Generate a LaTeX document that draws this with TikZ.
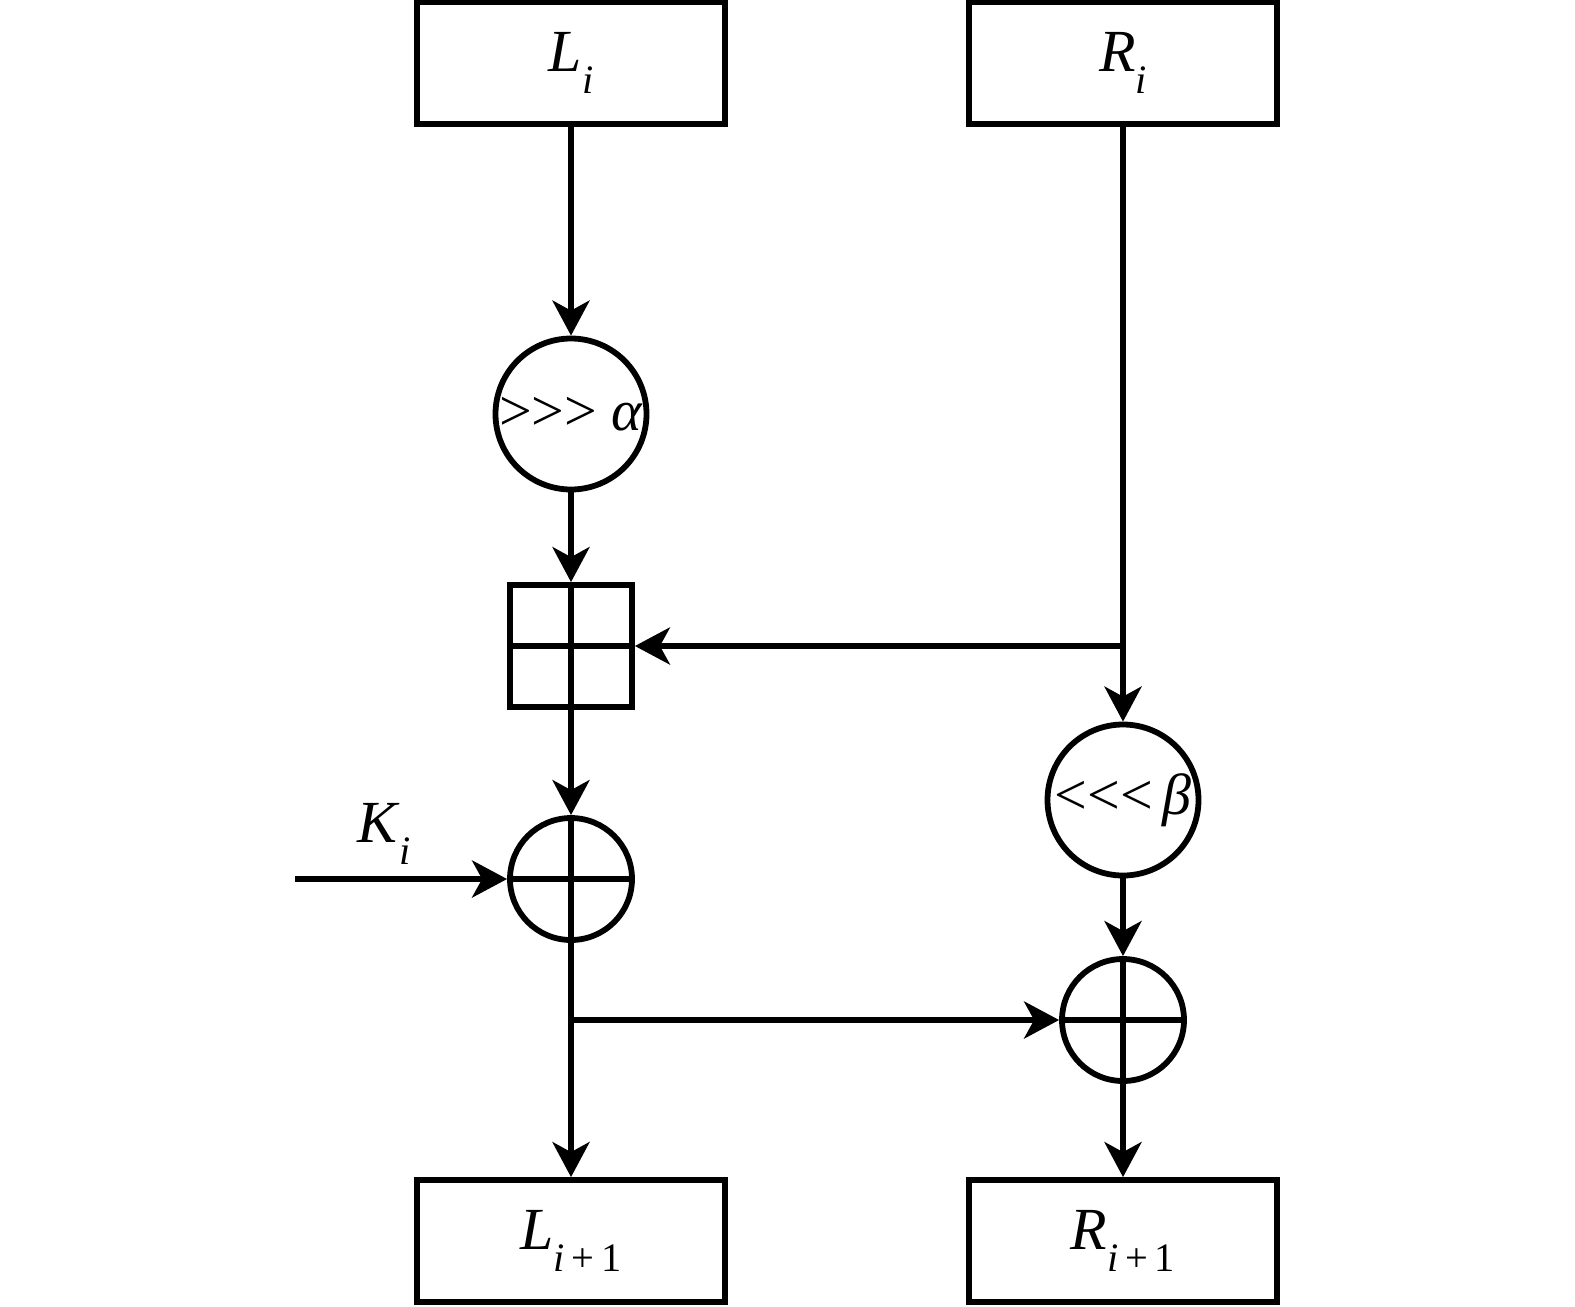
\documentclass[tikz,border=0pt]{standalone}
\usepackage{fontspec}
\setmainfont{Liberation Serif}
\usetikzlibrary{positioning, arrows.meta}

\newcommand{\vname}[2]{\textit{#1}\raisebox{-0.36em}{\fontsize{23}{23}\selectfont #2}}

\begin{document}
\begin{tikzpicture}[
    every node/.style={font=\fontsize{34}{40}\selectfont},
    box/.style={draw, line width=3.3pt, minimum width=6.16cm, minimum height=2.44cm, align=center},
    rot/.style={draw, circle, line width=3.3pt, minimum size=3.02cm, inner sep=0pt},
    xorop/.style={draw, circle, line width=3.3pt, minimum size=2.44cm, inner sep=0pt,
        path picture={\draw[line width=3.3pt] (path picture bounding box.north) -- (path picture bounding box.south)
            (path picture bounding box.west) -- (path picture bounding box.east);}},
    addop/.style={draw, rectangle, line width=3.3pt, minimum size=2.44cm, inner sep=0pt,
        path picture={\draw[line width=3.3pt] (path picture bounding box.north) -- (path picture bounding box.south)
            (path picture bounding box.west) -- (path picture bounding box.east);}},
    arrow/.style={-{Stealth[length=0.7cm, width=0.74cm, inset=0.2cm]}, line width=3.3pt},
    node distance=4cm, on grid
]
\useasboundingbox (0,0) rectangle (31.5,-26.12);

\node[box] (Li) at (11.42,-1.26) {\vname{L}{\textit{i}}};
\node[box, right=11.04cm of Li] (Ri) {\vname{R}{\textit{i}}};
\node[rot, below=7.02cm of Li, label={center:{\fontsize{33}{40}\selectfont {>}{>}{>} \textit{α}}}] (rotA) {};
\node[addop, below=4.64cm of rotA] (add) {};
\node[xorop, below=4.66cm of add] (xorL) {};
\node[box, below=7.24cm of xorL] (Lout) {\vname{L}{\textit{i}\,+\,1}};
\node[rot, below=14.74cm of Ri, label={center:{\fontsize{33}{40}\selectfont {<}{<}{<}\,\textit{β}}}] (rotB) {};
\node[xorop, below=4.4cm of rotB] (xorR) {};
\node[box, below=4.42cm of xorR] (Rout) {\vname{R}{\textit{i}\,+\,1}};

\coordinate[left=5.52cm of xorL] (kin);
\coordinate (brR) at (Ri |- add.east);
\coordinate (brL) at (xorL |- xorR.west);

\draw[arrow] (Li) -- (rotA);
\draw[arrow] (rotA) -- (add);
\draw[arrow] (add) -- (xorL);
\draw[arrow] (xorL) -- (Lout);
\draw[arrow] (kin) -- node[above=0.12cm, pos=0.42] (klab) {\vname{K}{\textit{i}}} (xorL.west);
\draw[arrow] (Ri) -- (rotB);
\draw[arrow] (brR) -- (add.east);
\draw[arrow] (rotB) -- (xorR);
\draw[arrow] (xorR) -- (Rout);
\draw[arrow] (brL) -- (xorR.west);
\end{tikzpicture}
\end{document}
